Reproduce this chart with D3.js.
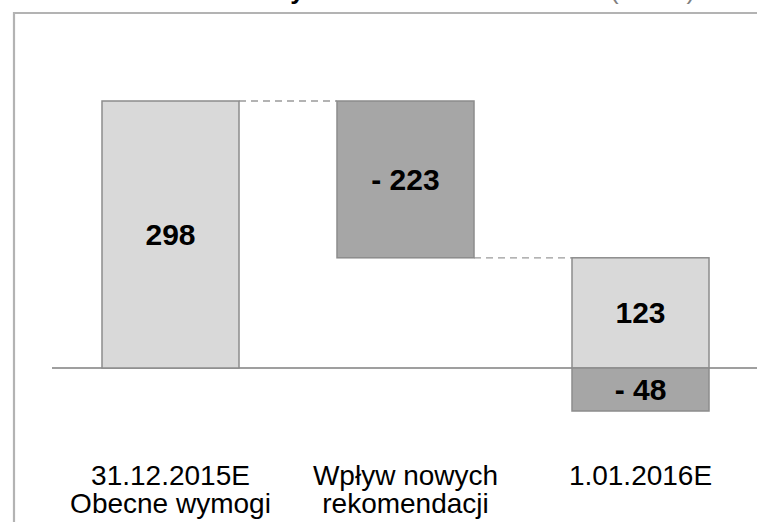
<!DOCTYPE html>
<html>
<head>
<meta charset="utf-8">
<script src="https://cdn.jsdelivr.net/npm/d3@7/dist/d3.min.js"></script>
<style>
  html, body { margin: 0; padding: 0; background: #fff; }
  svg { display: block; }
</style>
</head>
<body>
<svg id="chart" width="757" height="522"></svg>
<script>
// ---- data ----
const categories = ["31.12.2015E", "Wpływ nowych rekomendacji", "1.01.2016E"];
const categoryLines = [["31.12.2015E", "Obecne wymogi"], ["Wpływ nowych", "rekomendacji"], ["1.01.2016E"]];
// segments: category index, start value, end value, label, kind
const segCategory = [0, 1, 2, 2];
const segStart    = [0, 298, 0, 0];
const segEnd      = [298, 123, 123, -48];
const segLabels   = ["298", "- 223", "123", "- 48"];
const segKind     = ["total", "delta", "total", "delta"];
const titleMain = "Nadwyżka";
const titleUnit = "(mln zł)";

const svg = d3.select("#chart");
const W = 757, H = 522;

const x = d3.scaleBand().domain(categories).range([53, 758]).paddingInner(0.417).paddingOuter(0.2085);
const y = d3.scaleLinear().domain([0, 298]).range([368, 101]);

// frame
svg.append("path")
  .attr("d", `M14,${H + 5} L14,13 L${W + 5},13`)
  .attr("fill", "none").attr("stroke", "#b3b3b3").attr("stroke-width", 2.2);

// title (mostly clipped above the view, as in the reference)
svg.append("text").attr("x", 221).attr("y", -1)
  .attr("font-family", "Liberation Sans, Arial, sans-serif").attr("font-weight", "bold")
  .attr("font-size", 26).attr("fill", "#000").text(titleMain);
svg.append("text").attr("x", 610).attr("y", -1)
  .attr("font-family", "Liberation Sans, Arial, sans-serif")
  .attr("font-size", 26).attr("fill", "#7f7f7f").text(titleUnit);

const segs = segCategory.map((c, i) => ({
  cat: categories[c], s: segStart[i], e: segEnd[i], label: segLabels[i], kind: segKind[i]
}));

// connectors
const conn = [
  { x1: x(categories[0]) + x.bandwidth(), x2: x(categories[1]), v: segEnd[0] },
  { x1: x(categories[1]) + x.bandwidth(), x2: x(categories[2]), v: segEnd[1] }
];
svg.selectAll("line.conn").data(conn).enter().append("line")
  .attr("x1", d => d.x1).attr("x2", d => d.x2)
  .attr("y1", d => y(d.v)).attr("y2", d => y(d.v))
  .attr("stroke", "#9a9a9a").attr("stroke-width", 1.3).attr("stroke-dasharray", "7,5");

// baseline
svg.append("line").attr("x1", 52).attr("x2", W).attr("y1", y(0)).attr("y2", y(0))
  .attr("stroke", "#7f7f7f").attr("stroke-width", 1.5);

// bars
svg.selectAll("rect.seg").data(segs).enter().append("rect")
  .attr("x", d => x(d.cat))
  .attr("width", x.bandwidth())
  .attr("y", d => y(Math.max(d.s, d.e)))
  .attr("height", d => Math.abs(y(d.s) - y(d.e)))
  .attr("fill", d => d.kind === "total" ? "#d9d9d9" : "#a6a6a6")
  .attr("stroke", "#8c8c8c").attr("stroke-width", 1.5);

// value labels
svg.selectAll("text.val").data(segs).enter().append("text")
  .attr("x", d => x(d.cat) + x.bandwidth() / 2)
  .attr("y", d => (y(d.s) + y(d.e)) / 2 + 10.5)
  .attr("text-anchor", "middle")
  .attr("font-family", "Liberation Sans, Arial, sans-serif")
  .attr("font-weight", "bold").attr("font-size", 30).attr("fill", "#000")
  .text(d => d.label);

// category labels
const catG = svg.selectAll("g.cat").data(categories).enter().append("text")
  .attr("text-anchor", "middle")
  .attr("font-family", "Liberation Sans, Arial, sans-serif")
  .attr("font-size", 28).attr("fill", "#000");
catG.each(function(d, i) {
  const t = d3.select(this);
  categoryLines[i].forEach((line, j) => {
    t.append("tspan").attr("x", x(d) + x.bandwidth() / 2).attr("y", 485 + j * 28).text(line);
  });
});
</script>
</body>
</html>
